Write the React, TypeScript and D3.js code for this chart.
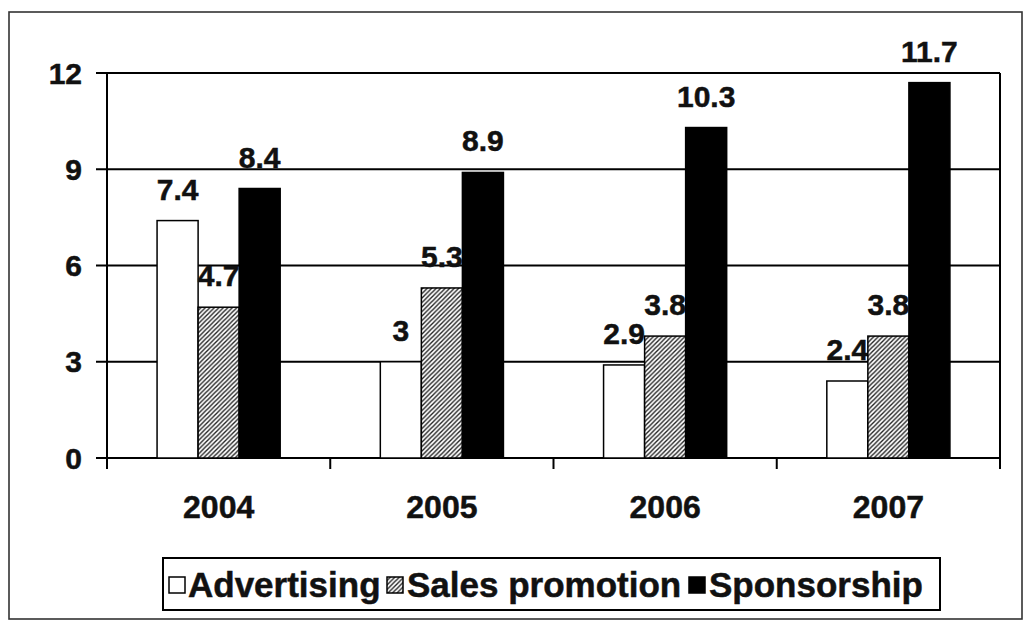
import React from "react";
import * as d3 from "d3";

const years = ["2004", "2005", "2006", "2007"];
const seriesNames = ["Advertising", "Sales promotion", "Sponsorship"];
const advertising = [7.4, 3, 2.9, 2.4];
const salesPromotion = [4.7, 5.3, 3.8, 3.8];
const sponsorship = [8.4, 8.9, 10.3, 11.7];
const yTicks = [0, 3, 6, 9, 12];
const labelText = [
  ["7.4", "3", "2.9", "2.4"],
  ["4.7", "5.3", "3.8", "3.8"],
  ["8.4", "8.9", "10.3", "11.7"],
];

const W = 1028;
const H = 624;
const FONT = "'Liberation Sans', Arial, Helvetica, sans-serif";
const INK = "#111";

export default function App() {
  const left = 107, right = 1000, top = 73, bottom = 458;
  const x = d3.scaleBand<string>().domain(years).range([left, right]).padding(0);
  const inner = d3
    .scaleBand<string>()
    .domain(seriesNames)
    .range([0, x.step()])
    .paddingInner(0)
    .paddingOuter(1.22);
  const y = d3.scaleLinear().domain([0, 12]).range([bottom, top]);
  const data = [advertising, salesPromotion, sponsorship];
  const fills = ["#ffffff", "url(#hatch)", "#000000"];

  const legendItems = [
    { sx: 169, tx: 188 },
    { sx: 387, tx: 407 },
    { sx: 689, tx: 709 },
  ];

  const txt = {
    fontFamily: FONT,
    fontWeight: "bold" as const,
    fill: INK,
    stroke: INK,
    strokeWidth: 0.5,
  };

  return (
    <svg width={W} height={H} style={{ position: "absolute", left: 0, top: 0, background: "#fff" }}>
      <defs>
        <pattern id="hatch" patternUnits="userSpaceOnUse" width="4.5" height="4.5">
          <rect width="4.5" height="4.5" fill="#fff" />
          <path d="M-1,1 l2,-2 M0,4.5 l4.5,-4.5 M3.5,5.5 l2,-2" stroke="#222" strokeWidth="1.4" />
        </pattern>
      </defs>
      <rect x={0} y={0} width={W} height={H} fill="#fff" />
      {/* outer frame */}
      <rect x={9} y={12} width={1013} height={607} fill="none" stroke="#333" strokeWidth={1.6} />

      {/* gridlines + y ticks */}
      {yTicks.map((t) => (
        <g key={t}>
          <line x1={96} x2={right} y1={y(t)} y2={y(t)} stroke="#000" strokeWidth={2} />
          <text x={82} y={y(t) + 10.5} textAnchor="end" fontSize={30} {...txt}>
            {t}
          </text>
        </g>
      ))}
      {/* plot area right border */}
      <line x1={right} x2={right} y1={top} y2={bottom} stroke="#000" strokeWidth={2} />
      {/* x-axis ticks */}
      {[...years.map((d) => x(d) as number), right].map((px, i) => (
        <line key={i} x1={px} x2={px} y1={bottom} y2={bottom + 11} stroke="#000" strokeWidth={2} />
      ))}
      {/* left axis */}
      <line x1={left} x2={left} y1={top} y2={bottom + 11} stroke="#000" strokeWidth={2} />

      {/* bars and labels, series by series */}
      {data.map((vals, si) => (
        <g key={si}>
          {vals.map((v, ci) => {
            const bx = (x(years[ci]) as number) + (inner(seriesNames[si]) as number);
            return (
              <rect
                key={ci}
                x={bx}
                y={y(v)}
                width={inner.bandwidth()}
                height={y(0) - y(v)}
                fill={fills[si]}
                stroke="#000"
                strokeWidth={1.5}
              />
            );
          })}
          {vals.map((v, ci) => {
            const bx = (x(years[ci]) as number) + (inner(seriesNames[si]) as number);
            return (
              <text
                key={"l" + ci}
                x={bx + inner.bandwidth() / 2}
                y={y(v) - 21}
                textAnchor="middle"
                fontSize={30}
                {...txt}
              >
                {labelText[si][ci]}
              </text>
            );
          })}
        </g>
      ))}

      {/* x labels */}
      {years.map((yr) => (
        <text
          key={yr}
          x={(x(yr) as number) + x.bandwidth() / 2}
          y={518}
          textAnchor="middle"
          fontSize={32}
          {...txt}
        >
          {yr}
        </text>
      ))}

      {/* legend */}
      <rect x={163} y={558} width={777} height={52} fill="#fff" stroke="#000" strokeWidth={2} />
      {seriesNames.map((name, i) => (
        <g key={name}>
          <rect
            x={legendItems[i].sx}
            y={577}
            width={16}
            height={16}
            fill={fills[i]}
            stroke="#000"
            strokeWidth={1.5}
          />
          <text x={legendItems[i].tx} y={597} fontSize={35} {...txt}>
            {name}
          </text>
        </g>
      ))}
    </svg>
  );
}
